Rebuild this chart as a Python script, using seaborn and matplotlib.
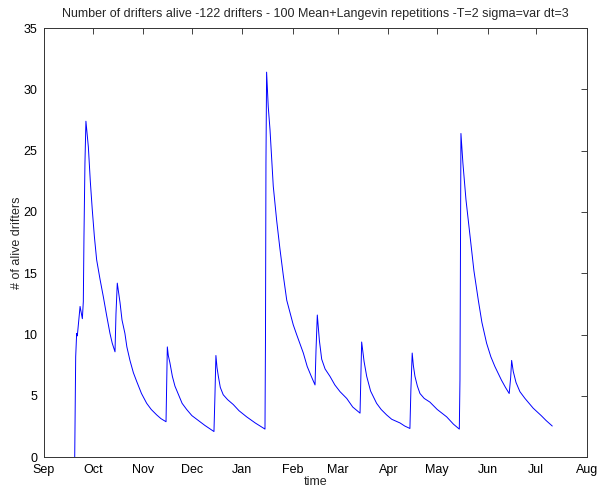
import matplotlib
matplotlib.use("Agg")
import matplotlib.pyplot as plt
import seaborn as sns
import pandas as pd

# days since 1 Sep
days = [18.9, 19.5, 20.1, 20.5, 22.2, 23.6, 24.2, 24.6, 25.2, 25.8, 27.3, 28.5, 29.7, 31.0,
        32.4, 34.5, 36.5, 38.5, 40.6, 42.0, 43.7,
        44.3, 45.1, 46.8, 48.0, 49.8, 51.0, 52.9, 55.0, 57.0, 60.0, 63.2, 66.0, 69.4, 72.0, 75.1,
        75.9, 76.5, 77.5, 79.0, 80.6, 82.5, 85.0, 87.8, 91.0, 96.0, 99.0, 104.6,
        105.2, 105.8, 106.5, 107.3, 108.5, 110.3, 113.0, 116.5, 120.0, 124.7, 130.0, 136.0,
        136.3, 136.6, 137.0, 138.0, 139.1, 141.1, 143.2, 145.2, 147.3, 149.4, 153.4, 155.5,
        159.6, 162.0, 164.5, 166.8,
        167.4, 168.2, 169.5, 170.9, 173.0, 176.0, 179.0, 182.2, 186.3, 190.0, 194.5,
        195.5, 197.0, 198.6, 201.0, 204.7, 207.5, 210.9, 214.0, 219.1, 222.0, 225.2,
        225.8, 226.6, 227.3, 228.3, 229.8, 231.4, 234.0, 237.5, 242.0, 247.8, 252.0, 255.6,
        256.0, 256.6, 257.8, 259.7, 262.2, 264.6, 267.3, 269.5, 272.4, 275.0, 277.5, 281.5,
        284.0, 286.3,
        287.2, 287.8, 288.8, 290.5, 292.9, 296.0, 301.1, 306.0, 309.0, 312.8]
alive = [0.0, 8.2, 10.1, 9.9, 12.3, 11.3, 12.7, 18.0, 24.0, 27.4, 25.3, 22.5, 20.2, 18.0,
         16.1, 14.5, 13.1, 11.6, 10.1, 9.3, 8.6,
         11.7, 14.2, 12.6, 11.2, 10.1, 9.0, 7.9, 6.9, 6.2, 5.2, 4.4, 3.9, 3.45, 3.15, 2.9,
         9.0, 8.3, 7.7, 6.6, 5.8, 5.2, 4.4, 3.9, 3.4, 2.9, 2.6, 2.1,
         5.0, 8.3, 7.3, 6.6, 5.7, 5.1, 4.7, 4.3, 3.8, 3.3, 2.8, 2.3,
         9.4, 24.0, 31.4, 28.6, 26.7, 22.1, 19.3, 17.0, 14.8, 12.8, 10.8, 10.0,
         8.5, 7.4, 6.6, 5.9,
         8.7, 11.6, 9.5, 8.0, 7.2, 6.6, 5.9, 5.35, 4.8, 4.1, 3.6,
         9.4, 7.8, 6.6, 5.4, 4.4, 3.9, 3.45, 3.1, 2.8, 2.55, 2.35,
         5.5, 8.5, 7.5, 6.6, 5.8, 5.2, 4.8, 4.5, 3.9, 3.3, 2.7, 2.3,
         6.3, 26.4, 24.0, 21.0, 18.0, 15.2, 12.8, 11.0, 9.3, 8.2, 7.4, 6.3,
         5.7, 5.2,
         6.5, 7.9, 7.0, 6.1, 5.35, 4.8, 4.0, 3.4, 3.0, 2.55]

month_days = [0, 30, 61, 91, 122, 153, 181, 212, 242, 273, 303, 334]
month_labels = ["Sep", "Oct", "Nov", "Dec", "Jan", "Feb", "Mar", "Apr", "May", "Jun", "Jul", "Aug"]
yticks = [0, 5, 10, 15, 20, 25, 30, 35]

sns.set_theme(style="white")
plt.rcParams["font.family"] = ["Liberation Sans", "DejaVu Sans"]

df = pd.DataFrame({"day": days, "alive": alive})

fig = plt.figure(figsize=(5.97, 4.88), dpi=100)
ax = fig.add_axes([44 / 597, 1 - 457.3 / 488, (586.7 - 44) / 597, (457.3 - 28) / 488])
sns.lineplot(data=df, x="day", y="alive", ax=ax, color="#0000ff", linewidth=0.7,
             estimator=None, sort=False)

ax.set_xlim(month_days[0], month_days[-1])
ax.set_ylim(0, 35)
ax.set_xticks(month_days)
ax.set_xticklabels(month_labels)
ax.set_yticks(yticks)
ax.tick_params(direction="in", length=4, width=0.6, top=True, right=True,
               labelsize=9, colors="#222222")
ax.tick_params(axis="x", pad=5)
ax.tick_params(axis="y", pad=5)
for lbl in ax.get_xticklabels() + ax.get_yticklabels():
    lbl.set_color("black")
for s in ax.spines.values():
    s.set_color("#333333")
    s.set_linewidth(0.7)

ax.set_xlabel("time", fontsize=9, labelpad=0)
ax.set_ylabel("# of alive drifters", fontsize=9, labelpad=0)
ax.set_title("Number of drifters alive -122 drifters - 100 Mean+Langevin repetitions -T=2 sigma=var dt=3",
             fontsize=9, pad=8)

fig.savefig("out.png", dpi=100)
